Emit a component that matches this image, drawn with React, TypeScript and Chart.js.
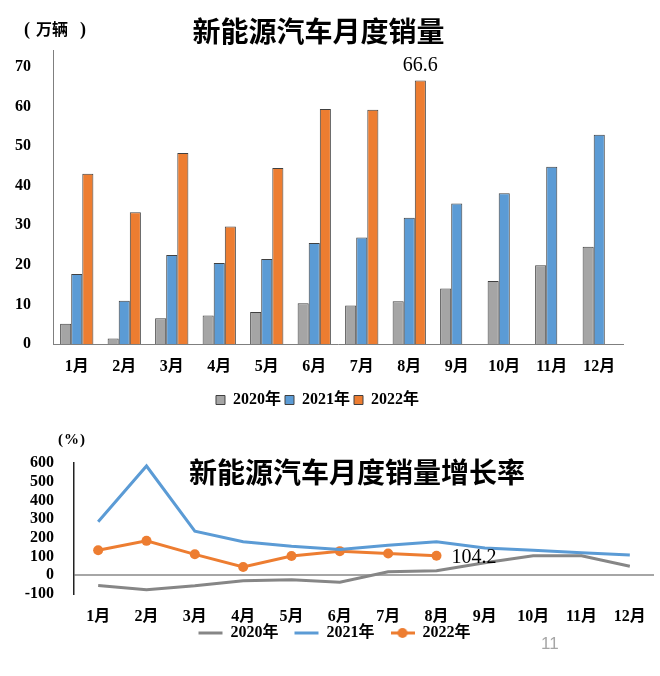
import React, { useEffect, useRef } from 'react';
import { Chart, registerables } from 'chart.js';

Chart.register(...registerables);

const months = ['1月', '2月', '3月', '4月', '5月', '6月', '7月', '8月', '9月', '10月', '11月', '12月'];
const years = ['2020年', '2021年', '2022年'];

// 月度销量（万辆）
const sales2020 = [5.1, 1.4, 6.5, 7.2, 8.1, 10.3, 9.7, 10.8, 14.0, 15.9, 19.9, 24.6];
const sales2021 = [17.7, 10.9, 22.5, 20.5, 21.5, 25.5, 26.9, 31.9, 35.5, 38.1, 44.8, 52.9];
const sales2022 = [43.0, 33.3, 48.3, 29.7, 44.5, 59.4, 59.2, 66.6, null, null, null, null];
const salesTicks = [0, 10, 20, 30, 40, 50, 60, 70];

// 月度销量增长率（%）
const growth2020 = [-54, -77, -56, -29, -24, -37, 19, 24, 67, 104, 104, 48];
const growth2021 = [286, 584, 236, 179, 155, 138, 161, 179, 146, 134, 120, 109];
const growth2022 = [134, 184, 112, 44, 103, 129, 116, 104.2, null, null, null, null];
const growthTicks = [-100, 0, 100, 200, 300, 400, 500, 600];

const SERIF = "'Liberation Serif', 'Noto Sans CJK SC', serif";
const CJK = "'Noto Sans CJK SC', sans-serif";

const GRAY = '#a5a5a5';
const BLUE = '#5b9bd5';
const ORANGE = '#ed7d31';
const LINE_GRAY = '#868686';

const valueLabelPlugin = {
  id: 'valueLabel',
  afterDatasetsDraw(chart: any, _args: any, opts: any) {
    if (!opts || opts.datasetIndex == null) return;
    const data = chart.data.datasets[opts.datasetIndex].data;
    let idx = -1;
    for (let i = 0; i < data.length; i++) if (data[i] != null) idx = i;
    if (idx < 0) return;
    const el = chart.getDatasetMeta(opts.datasetIndex).data[idx];
    const ctx = chart.ctx;
    ctx.save();
    ctx.font = opts.font;
    ctx.fillStyle = '#000';
    ctx.textAlign = opts.align;
    ctx.textBaseline = 'alphabetic';
    ctx.fillText(Number(data[idx]).toFixed(1), el.x + opts.offsetX, el.y + opts.offsetY);
    ctx.restore();
  },
};

export default function App() {
  const barRef = useRef<HTMLCanvasElement>(null);
  const lineRef = useRef<HTMLCanvasElement>(null);

  useEffect(() => {
    document.body.style.margin = '0';
    const tickFont = { family: SERIF, size: 16, weight: 'bold' as const };

    const bar = new Chart(barRef.current!, {
      type: 'bar',
      data: {
        labels: months,
        datasets: [
          { label: years[0], data: sales2020, backgroundColor: GRAY, borderColor: '#404040', borderWidth: 1 },
          { label: years[1], data: sales2021, backgroundColor: BLUE, borderColor: '#404040', borderWidth: 1 },
          { label: years[2], data: sales2022, backgroundColor: ORANGE, borderColor: '#404040', borderWidth: 1 },
        ],
      },
      options: {
        responsive: false,
        animation: false,
        devicePixelRatio: 1,
        layout: { padding: { left: 12, right: 37, top: 50, bottom: 0 } },
        datasets: { bar: { categoryPercentage: 0.7, barPercentage: 1 } },
        scales: {
          x: {
            grid: { display: false, drawTicks: false },
            border: { display: true, color: '#7f7f7f', width: 1 },
            ticks: { font: tickFont, color: '#000', padding: 13, maxRotation: 0, autoSkip: false },
            afterFit: (s: any) => { s.height = 44; },
          },
          y: {
            min: 0,
            max: 74.3,
            grid: { display: false, drawTicks: false },
            border: { display: true, color: '#7f7f7f', width: 1 },
            ticks: { font: tickFont, color: '#000', padding: 22, autoSkip: false },
            afterFit: (s: any) => { s.width = 41; },
            afterBuildTicks: (s: any) => { s.ticks = salesTicks.map((v) => ({ value: v })); },
          },
        },
        plugins: {
          legend: {
            position: 'bottom',
            labels: { boxWidth: 9, boxHeight: 9, padding: 4, font: tickFont, color: '#000' },
          },
          tooltip: { enabled: false },
          valueLabel: { datasetIndex: 2, font: `20px ${SERIF}`, align: 'center', offsetX: 0, offsetY: -9 },
        } as any,
      },
      plugins: [valueLabelPlugin],
    });

    const marker = document.createElement('canvas');
    marker.width = 24;
    marker.height = 12;
    const mctx = marker.getContext('2d')!;
    mctx.strokeStyle = ORANGE;
    mctx.lineWidth = 3;
    mctx.beginPath();
    mctx.moveTo(0, 6);
    mctx.lineTo(24, 6);
    mctx.stroke();
    mctx.fillStyle = ORANGE;
    mctx.beginPath();
    mctx.arc(12, 6, 5, 0, Math.PI * 2);
    mctx.fill();

    const line = new Chart(lineRef.current!, {
      type: 'line',
      data: {
        labels: months,
        datasets: [
          { label: years[0], data: growth2020, borderColor: LINE_GRAY, backgroundColor: LINE_GRAY, borderWidth: 3, pointRadius: 0, tension: 0 },
          { label: years[1], data: growth2021, borderColor: BLUE, backgroundColor: BLUE, borderWidth: 3, pointRadius: 0, tension: 0 },
          {
            label: years[2], data: growth2022, borderColor: ORANGE, backgroundColor: ORANGE, borderWidth: 3,
            pointRadius: 5, pointBackgroundColor: ORANGE, pointBorderColor: ORANGE, pointBorderWidth: 0, tension: 0,
          },
        ],
      },
      options: {
        responsive: false,
        animation: false,
        devicePixelRatio: 1,
        layout: { padding: { left: 15, right: 6, top: 43, bottom: 25 } },
        scales: {
          x: {
            offset: true,
            grid: { display: false, drawTicks: false },
            border: { display: false },
            // mirror disables the label clip box so labels may sit below the short axis box
            ticks: { font: tickFont, color: '#000', mirror: true, padding: -32.6, maxRotation: 0, autoSkip: false },
            afterFit: (s: any) => { s.height = 15; },
          },
          y: {
            min: -100,
            max: 600,
            ticks: { font: tickFont, color: '#000', padding: 20, autoSkip: false },
            afterBuildTicks: (s: any) => { s.ticks = growthTicks.map((v) => ({ value: v })); },
            grid: {
              drawTicks: false,
              lineWidth: 2,
              color: (c: any) => (c.tick && c.tick.value === 0 ? '#a6a6a6' : 'rgba(0,0,0,0)'),
            },
            border: { display: true, color: '#222', width: 1.5 },
            afterFit: (s: any) => { s.width = 59; },
          },
        },
        plugins: {
          legend: {
            position: 'bottom',
            labels: {
              usePointStyle: true,
              pointStyleWidth: 24,
              padding: 16,
              font: tickFont,
              color: '#000',
              generateLabels: (chart: any) => {
                const items = Chart.defaults.plugins.legend.labels.generateLabels(chart);
                return items.map((it: any, i: number) => {
                  const ds: any = chart.data.datasets[it.datasetIndex];
                  return { ...it, pointStyle: i === 2 ? marker : 'line', strokeStyle: ds.borderColor, fillStyle: ds.borderColor, lineWidth: 3 };
                });
              },
            },
          },
          tooltip: { enabled: false },
          valueLabel: { datasetIndex: 2, font: `20px ${SERIF}`, align: 'left', offsetX: 15, offsetY: 7 },
        } as any,
      },
      plugins: [valueLabelPlugin],
    });

    return () => {
      bar.destroy();
      line.destroy();
    };
  }, []);

  const abs: React.CSSProperties = { position: 'absolute', whiteSpace: 'nowrap', lineHeight: 1 };

  return (
    <div style={{ position: 'relative', width: 660, height: 676, background: '#fff', overflow: 'hidden' }}>
      <canvas ref={barRef} width={660} height={418} style={{ position: 'absolute', left: 0, top: 0 }} />
      <canvas ref={lineRef} width={660} height={256} style={{ position: 'absolute', left: 0, top: 420 }} />
      <div style={{ ...abs, left: 318.5, top: 29.5, transform: 'translate(-50%, -50%)', fontFamily: CJK, fontWeight: 700, fontSize: 28, color: '#000' }}>
        新能源汽车月度销量
      </div>
      <div style={{ ...abs, left: 24, top: 29, transform: 'translateY(-50%)', fontFamily: SERIF, fontWeight: 700, fontSize: 18, color: '#000' }}>
        <span>(</span>
        <span style={{ fontFamily: CJK, marginLeft: 6, marginRight: 12, fontSize: 16 }}>万辆</span>
        <span>)</span>
      </div>
      <div style={{ ...abs, left: 357, top: 470.5, transform: 'translate(-50%, -50%)', fontFamily: CJK, fontWeight: 700, fontSize: 28, color: '#000' }}>
        新能源汽车月度销量增长率
      </div>
      <div style={{ ...abs, left: 58, top: 439, transform: 'translateY(-50%)', fontFamily: SERIF, fontWeight: 700, fontSize: 15, letterSpacing: 1, color: '#000' }}>
        (%)
      </div>
      <div style={{ ...abs, left: 541, top: 642.5, transform: 'translateY(-50%)', fontFamily: "'Liberation Sans', sans-serif", fontSize: 17, color: '#a6a6a6' }}>
        11
      </div>
    </div>
  );
}
